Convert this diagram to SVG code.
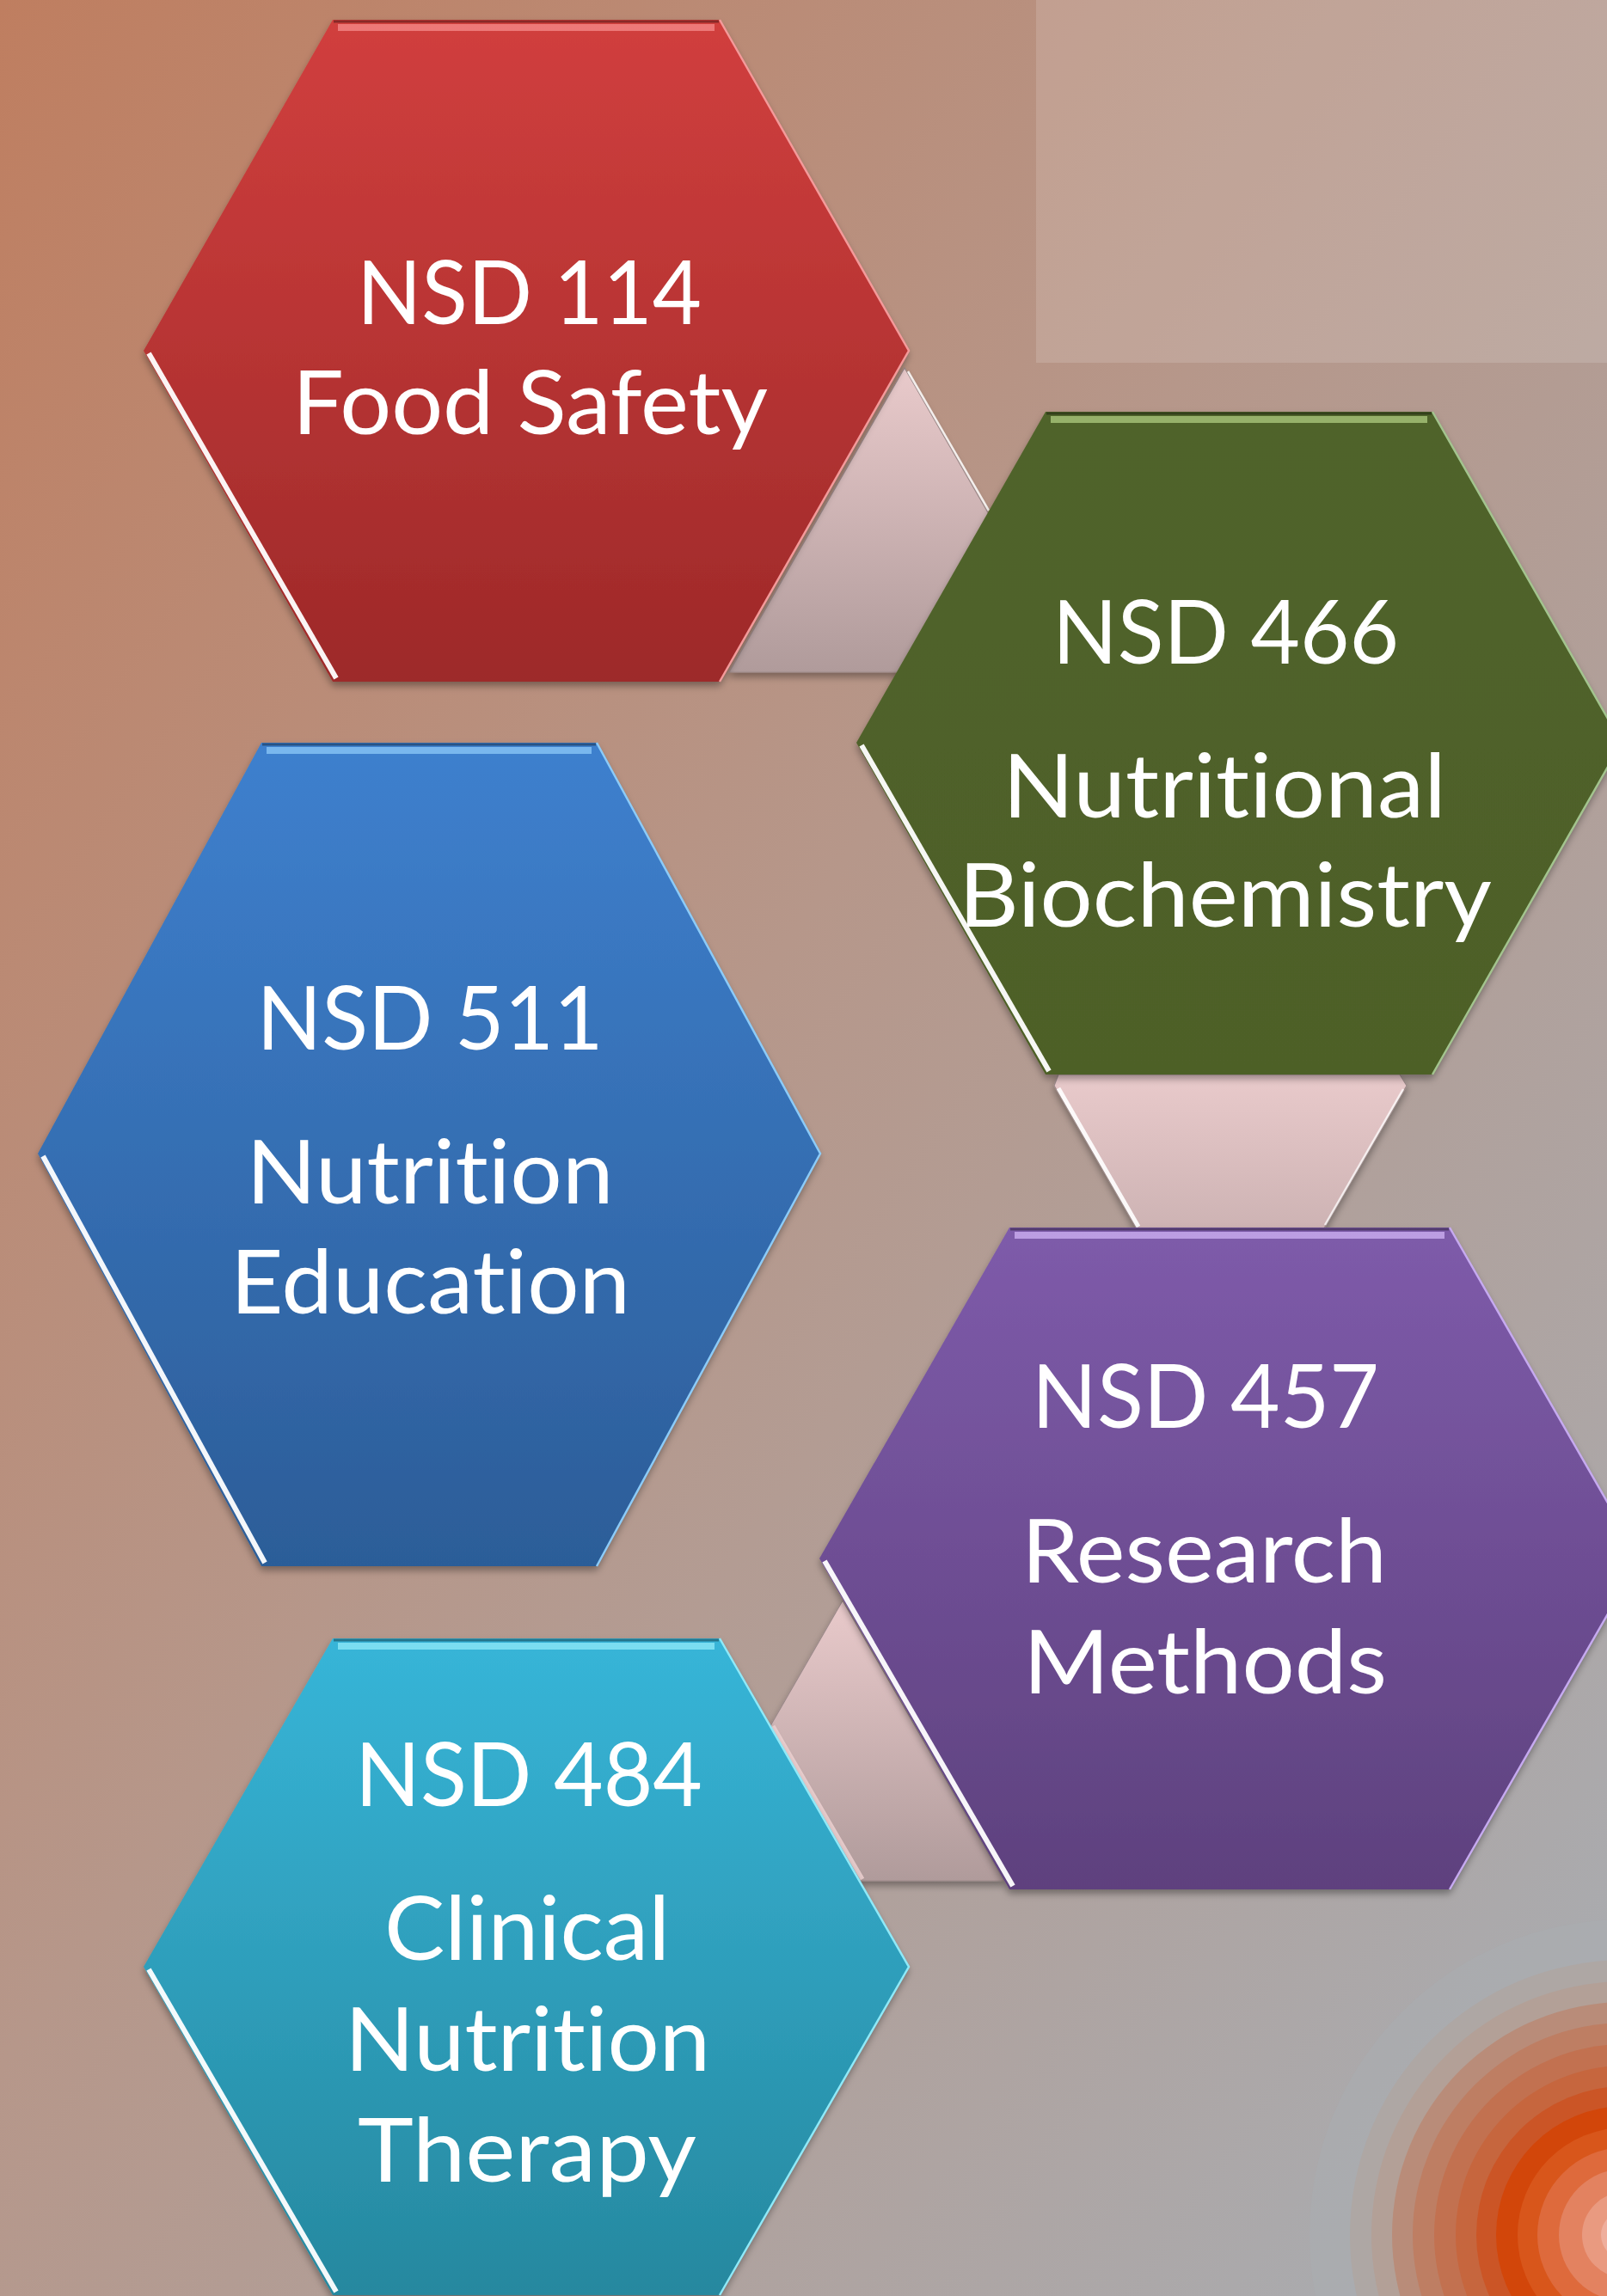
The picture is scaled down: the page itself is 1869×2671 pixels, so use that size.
<svg xmlns="http://www.w3.org/2000/svg" width="1869" height="2671" viewBox="0 0 1869 2671">
<defs>
  <linearGradient id="bg" x1="0" y1="0" x2="1" y2="1">
    <stop offset="0" stop-color="#BF7E60"/>
    <stop offset="0.45" stop-color="#B6978A"/>
    <stop offset="1" stop-color="#A8AEB4"/>
  </linearGradient>
  <linearGradient id="gRed" x1="0" y1="0" x2="0" y2="1">
    <stop offset="0" stop-color="#D13F3E"/><stop offset="1" stop-color="#9D2929"/>
  </linearGradient>
  <linearGradient id="gGreen" x1="0" y1="0" x2="0" y2="1">
    <stop offset="0" stop-color="#50632A"/><stop offset="1" stop-color="#4E6028"/>
  </linearGradient>
  <linearGradient id="gBlue" x1="0" y1="0" x2="0" y2="1">
    <stop offset="0" stop-color="#3E80CE"/><stop offset="1" stop-color="#2C5D98"/>
  </linearGradient>
  <linearGradient id="gPurple" x1="0" y1="0" x2="0" y2="1">
    <stop offset="0" stop-color="#7E5BAA"/><stop offset="1" stop-color="#5E417E"/>
  </linearGradient>
  <linearGradient id="gCyan" x1="0" y1="0" x2="0" y2="1">
    <stop offset="0" stop-color="#37B5D8"/><stop offset="1" stop-color="#26889F"/>
  </linearGradient>
  <linearGradient id="gConn" x1="0" y1="0" x2="0" y2="1">
    <stop offset="0" stop-color="#E9CACB"/><stop offset="1" stop-color="#B09B9B"/>
  </linearGradient>
  <filter id="shadow" x="-10%" y="-10%" width="120%" height="125%">
    <feDropShadow dx="0" dy="5" stdDeviation="4" flood-color="#000" flood-opacity="0.35"/>
  </filter>
</defs>
<style>
  .t { font-family: Lato, "Liberation Sans", sans-serif; font-size: 102px; fill: #FFFFFF; text-anchor: middle; font-variant-ligatures: none; font-feature-settings: "liga" 0, "clig" 0; }
  .hex { filter: url(#shadow); }
  .conn { fill: url(#gConn); stroke: #9C8A8A; stroke-width: 1.2; filter: url(#shadow); }
  .ll { fill: none; stroke: #FFFFFF; stroke-width: 6; stroke-linecap: butt; stroke-opacity: 0.95; }
  .top { fill: none; stroke-width: 8; stroke-linecap: butt; stroke-opacity: 0.75; }
  .topd { fill: none; stroke-width: 3; stroke-opacity: 0.35; stroke: #000; }
  .re { fill: none; stroke-width: 2.5; }
</style>

<rect x="0" y="0" width="1869" height="2671" fill="url(#bg)"/>
<rect x="1205" y="0" width="664" height="422" fill="#FFFFFF" fill-opacity="0.14"/>

<g id="rings">
  <circle cx="1890" cy="2600" r="367" fill="#AAADB1" fill-opacity="0.5"/>
  <circle cx="1890" cy="2600" r="320" fill="#AEA7A4"/>
  <circle cx="1890" cy="2600" r="295" fill="#B3A097"/>
  <circle cx="1890" cy="2600" r="271" fill="#B98C79"/>
  <circle cx="1890" cy="2600" r="247" fill="#BE7E63"/>
  <circle cx="1890" cy="2600" r="222" fill="#C27150"/>
  <circle cx="1890" cy="2600" r="197" fill="#C6663E"/>
  <circle cx="1890" cy="2600" r="173" fill="#CB5526"/>
  <circle cx="1890" cy="2600" r="150" fill="#D2460A"/>
  <circle cx="1890" cy="2600" r="125" fill="#D8561B"/>
  <circle cx="1890" cy="2600" r="102" fill="#DE6A3C"/>
  <circle cx="1890" cy="2600" r="77" fill="#E38260"/>
  <circle cx="1890" cy="2600" r="50" fill="#E99A80"/>
  <circle cx="1890" cy="2600" r="28" fill="#EFAE9C"/>
</g>

<g id="connectors">
  <polygon class="conn" points="1052,428 848,782 1256,782"/>
  <polyline points="1056,432 1150,594" fill="none" stroke="#FFFFFF" stroke-width="2.5" stroke-opacity="0.85"/>
  <polygon class="conn" points="1231,1250 1226,1263 1431,1617 1636,1263 1628,1250"/>
  <polyline points="1231,1266 1324,1427" fill="none" stroke="#FFFFFF" stroke-width="5" stroke-opacity="0.9"/>
  <polyline points="1632,1267 1541,1425" fill="none" stroke="#FFFFFF" stroke-width="2.5" stroke-opacity="0.75"/>
  <polygon class="conn" points="980,1862 792,2188 1168,2188"/>
  <polyline points="899,2008 1003,2186" fill="none" stroke="#F3D6D6" stroke-width="5" stroke-opacity="0.8"/>
</g>

<g id="nsd114">
  <polygon class="hex" points="167,408 387,23 837,23 1057,408 837,793 387,793" fill="url(#gRed)"/>
  <polyline class="topd" points="388,25 836,25"/>
  <polyline class="top" points="393,32 831,32" stroke="#F58C8C"/>
  <polyline class="ll" points="173,411 391,789"/>
  <polyline class="re" points="837,23 1057,408 837,793" stroke="#F49A9A"/>
  <text class="t" x="615.5" y="377" textLength="401" lengthAdjust="spacingAndGlyphs">NSD 114</text>
  <text class="t" x="616.5" y="505" textLength="553" lengthAdjust="spacingAndGlyphs">Food Safety</text>
</g>

<g id="nsd466">
  <polygon class="hex" points="996,864 1216,479 1666,479 1886,864 1666,1250 1216,1250" fill="url(#gGreen)"/>
  <polyline class="topd" points="1217,481 1665,481"/>
  <polyline class="top" points="1222,488 1660,488" stroke="#AECB80"/>
  <polyline class="ll" points="1002,867 1220,1246"/>
  <polyline class="re" points="1666,479 1886,864 1666,1250" stroke="#A3C48E"/>
  <text class="t" x="1425.5" y="772" textLength="403" lengthAdjust="spacingAndGlyphs">NSD 466</text>
  <text class="t" x="1424" y="951" textLength="516" lengthAdjust="spacingAndGlyphs">Nutritional</text>
  <text class="t" x="1425" y="1078" textLength="620" lengthAdjust="spacingAndGlyphs">Biochemistry</text>
</g>

<g id="nsd511">
  <polygon class="hex" points="44,1342 304,864 694,864 954,1342 694,1822 304,1822" fill="url(#gBlue)"/>
  <polyline class="topd" points="305,866 693,866"/>
  <polyline class="top" points="310,873 688,873" stroke="#8ECAF8"/>
  <polyline class="ll" points="50,1345 308,1818"/>
  <polyline class="re" points="694,864 954,1342 694,1822" stroke="#8CCBF8"/>
  <text class="t" x="500" y="1221" textLength="403" lengthAdjust="spacingAndGlyphs">NSD 511</text>
  <text class="t" x="500" y="1400" textLength="427" lengthAdjust="spacingAndGlyphs">Nutrition</text>
  <text class="t" x="500.5" y="1528" textLength="465" lengthAdjust="spacingAndGlyphs">Education</text>
</g>

<g id="nsd457">
  <polygon class="hex" points="953,1813 1174,1428 1686,1428 1907,1813 1686,2198 1174,2198" fill="url(#gPurple)"/>
  <polyline class="topd" points="1175,1430 1685,1430"/>
  <polyline class="top" points="1180,1437 1680,1437" stroke="#D2B4F6"/>
  <polyline class="ll" points="959,1816 1178,2194"/>
  <polyline class="re" points="1686,1428 1907,1813 1686,2198" stroke="#C6AAF0"/>
  <text class="t" x="1402" y="1661" textLength="404" lengthAdjust="spacingAndGlyphs">NSD 457</text>
  <text class="t" x="1400.5" y="1841" textLength="425" lengthAdjust="spacingAndGlyphs">Research</text>
  <text class="t" x="1401.5" y="1970" textLength="423" lengthAdjust="spacingAndGlyphs">Methods</text>
</g>

<g id="nsd484">
  <polygon class="hex" points="167,2288 387,1906 837,1906 1057,2288 837,2670 387,2670" fill="url(#gCyan)"/>
  <polyline class="topd" points="388,1908 836,1908"/>
  <polyline class="top" points="393,1915 831,1915" stroke="#92ECFA"/>
  <polyline class="ll" points="173,2291 391,2666"/>
  <polyline class="re" points="837,1906 1057,2288 837,2670" stroke="#8FE9F8"/>
  <text class="t" x="615" y="2101" textLength="404" lengthAdjust="spacingAndGlyphs">NSD 484</text>
  <text class="t" x="613" y="2280" textLength="332" lengthAdjust="spacingAndGlyphs">Clinical</text>
  <text class="t" x="613.5" y="2409" textLength="425" lengthAdjust="spacingAndGlyphs">Nutrition</text>
  <text class="t" x="613" y="2538" textLength="394" lengthAdjust="spacingAndGlyphs">Therapy</text>
</g>
</svg>
